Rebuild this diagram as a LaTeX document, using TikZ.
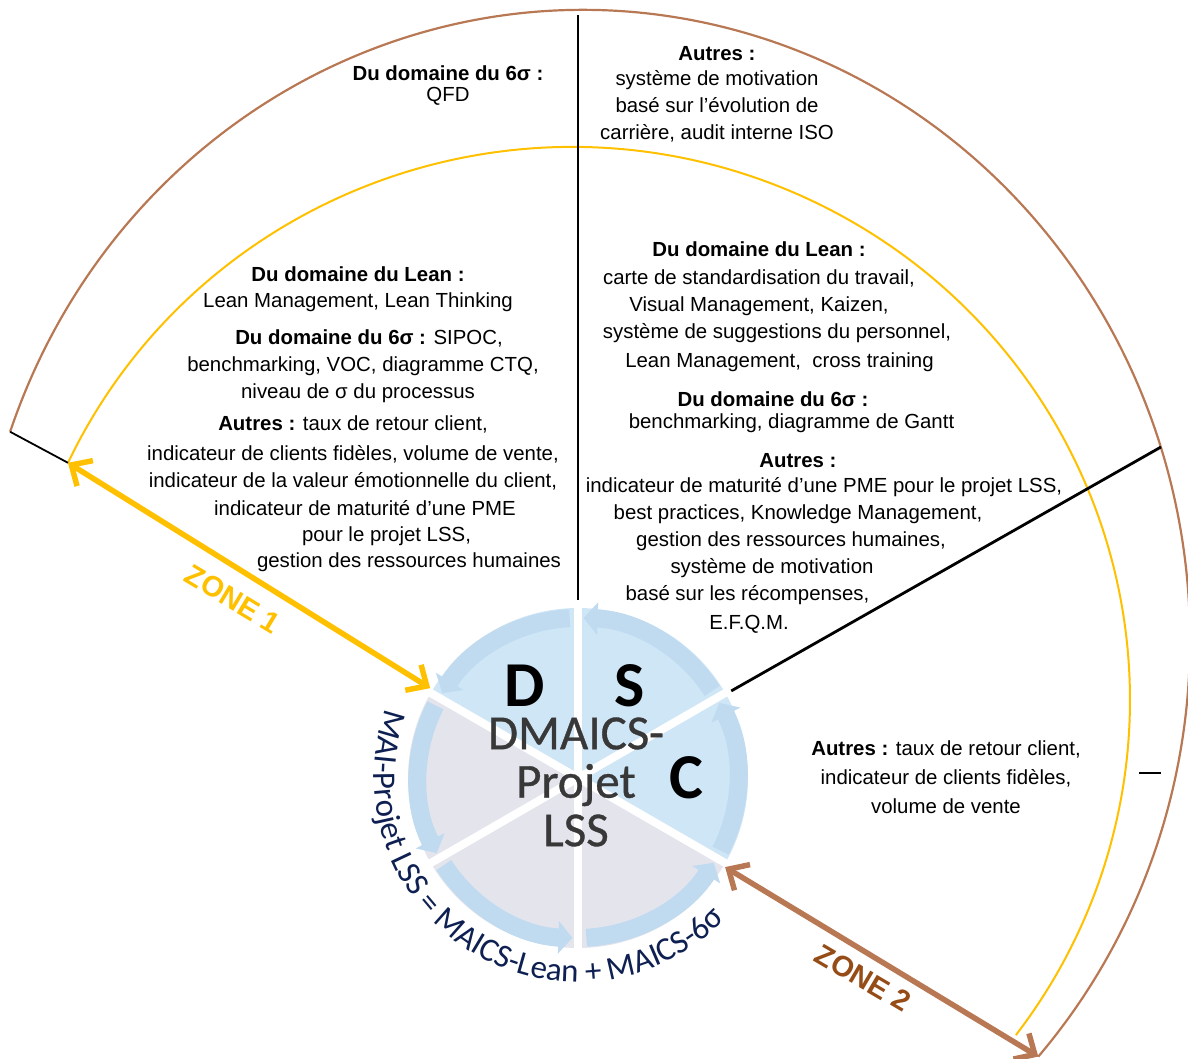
\documentclass[tikz,border=0pt]{standalone}
\usepackage{fontspec}
\setmainfont{Liberation Sans}
\newfontfamily\carlito{Carlito}
\newfontfamily\carlitocore[FakeBold=0.7]{Carlito}
\usetikzlibrary{arrows.meta, calc, decorations.text}

\definecolor{zoneyellow}{RGB}{255,192,0}
\definecolor{zonebrown}{RGB}{185,120,84}
\definecolor{zonebrowndark}{RGB}{150,76,22}
\definecolor{secblue}{RGB}{207,230,247}
\definecolor{secgrey}{RGB}{228,228,237}
\definecolor{ringblue}{RGB}{192,219,240}
\definecolor{cyclenavy}{RGB}{14,32,82}

\newcommand{\cyclefont}{\carlito\fontsize{33}{33}\selectfont}

\tikzset{
  blocktxt/.style={align=center, inner sep=0pt, font=\fontsize{20.4}{27}\selectfont},
  % zones: yellow = zone 1, brown = zone 2
  yellowarc/.style={draw=zoneyellow, line width=2pt},
  brownarc/.style={draw=zonebrown, line width=2.2pt},
  zonearr/.style={{Straight Barb[length=16pt, width=30pt]}-{Straight Barb[length=16pt, width=30pt]}, line width=5.5pt},
  zonelabel/.style={font=\bfseries\fontsize{29}{29}\selectfont, inner sep=0pt},
  divthin/.style={draw=black, line width=1.8pt},
  divthick/.style={draw=black, line width=2.8pt},
  % DMAICS wheel
  ringband/.style={draw=ringblue, line width=18pt, -{Triangle[width=32pt, length=14pt]}},
  sepline/.style={draw=white, line width=8pt},
  letterbig/.style={font=\carlito\bfseries\fontsize{64}{64}\selectfont, inner sep=0pt},
  coretxt/.style={font=\carlitocore\fontsize{49}{48.5}\selectfont, align=center, inner sep=0pt, text=black!78},
}

\begin{document}
\begin{tikzpicture}[x=1pt, y=1pt]
  \useasboundingbox (0,0) rectangle (1188,1059);

  \coordinate (O) at (578,281);
  \coordinate (Yc) at (572,359);
  \coordinate (Bc) at (583,419);
  \coordinate (ystart) at ($(Yc)+(154.6:558 and 553)$);
  \coordinate (brstart) at ($(Bc)+(160.7:607 and 630)$);
  \coordinate (brend) at ($(Bc)+(-41.4:607 and 630)$);
  \coordinate (toptip) at (578,1044);
  \coordinate (topmid) at (578,812);
  \coordinate (topfoot) at ($(O)+(90:178)$);
  \coordinate (rtip) at (1161,612);
  \coordinate (rfoot) at ($(O)+(29.6:176)$);
  \coordinate (z1foot) at ($(O)+(148.7:173)$);
  \coordinate (z2foot) at ($(O)+(-31.2:172)$);
  \coordinate (dashA) at (1139,286);
  \coordinate (dashB) at (1161,286);

  % zone limits
  \draw[yellowarc] (ystart) arc[start angle=154.6, end angle=-37.3, x radius=558, y radius=553];
  \draw[brownarc] (brstart) arc[start angle=160.7, end angle=-41.4, x radius=607, y radius=630];

  \draw[divthin] (brstart) -- (ystart);
  \draw[divthin] (toptip) -- (topmid);
  \draw[divthick] (topmid) -- (topfoot);
  \draw[divthick] (rtip) -- (rfoot);
  \draw[divthick] (dashA) -- (dashB);

  % wheel
  \foreach \s/\c in {30/secblue, 90/secblue, 150/secgrey, 210/secgrey, 270/secgrey, 330/secblue}
    \fill[\c] (O) -- ++(\s:170) arc[start angle=\s, delta angle=60, radius=170] -- cycle;
  \foreach \s in {30,90,...,330}
    \draw[ringband] ($(O)+({\s+3}:160)$) arc[start angle=\s+3, delta angle=55, radius=160];
  \foreach \s in {30,90,...,330}
    \draw[sepline] (O) -- ++(\s:176);

  \path[decorate, decoration={text along path, text align=left, text color=cyclenavy,
      text={|\cyclefont|MAI-Projet LSS = MAICS-Lean + MAICS-6σ}}]
    ($(O)+(160:204)$) arc[start angle=160, end angle=335, radius=204];

  \node[letterbig] (dD) at (525,373) {D};
  \node[letterbig] (dS) at (630,373) {S};
  \node[letterbig] (dC) at (686,281) {C};
  \node[coretxt] (core) at (576,277) {DMAICS-\\Projet\\LSS};

  \draw[zonearr, draw=zoneyellow] (ystart) -- (z1foot);
  \draw[zonearr, draw=zonebrown] (z2foot) -- (brend);
  \node[zonelabel, text=zoneyellow, rotate=-31] (zone1) at (233,460) {ZONE 1};
  \node[zonelabel, text=zonebrowndark, rotate=-30.5] (zone2) at (863,81) {ZONE 2};

  % texts
  \node[blocktxt] (sixtop) at (448,973.5) {\textbf{Du domaine du 6σ :}\\[-6pt]QFD};
  \node[blocktxt] (autrestop) at (717,964.5) {\textbf{Autres :}\\[-2pt]
    système de motivation\\
    basé sur l’évolution de\\
    carrière, audit interne ISO};

  \node[blocktxt] (leanleft) at (358,770) {\textbf{Du domaine du Lean :}\\[-1pt]
    Lean Management, Lean Thinking};
  \node[blocktxt] (sixleft) at (363,693) {\hspace*{12pt}\textbf{Du domaine du 6σ :} SIPOC,\\
    benchmarking, VOC, diagramme CTQ,\\
    niveau de σ du processus\hspace*{10pt}\null};
  \node[blocktxt] (autresleft) at (353,565.5) {\textbf{Autres :} taux de retour client,\\[3pt]
    indicateur de clients fidèles, volume de vente,\\
    indicateur de la valeur émotionnelle du client,\\[1pt]
    \hspace*{24pt}indicateur de maturité d’une PME\\[-1pt]
    \hspace*{67pt}pour le projet LSS,\\[-1pt]
    \hspace*{112pt}gestion des ressources humaines};

  \node[blocktxt] (leanright) at (759,752.5) {\textbf{Du domaine du Lean :}\\[1pt]
    carte de standardisation du travail,\\
    Visual Management, Kaizen,\\
    \hspace*{36pt}système de suggestions du personnel,\\[2pt]
    \hspace*{41pt}Lean Management,~ cross training};
  \node[blocktxt] (sixright) at (773,647) {\textbf{Du domaine du 6σ :}\\[-5pt]
    \hspace*{37pt}benchmarking, diagramme de Gantt};
  \node[blocktxt] (autresright) at (798,516) {\textbf{Autres :}\\[-2pt]
    \hspace*{52pt}indicateur de maturité d’une PME pour le projet LSS,\\
    best practices, Knowledge Management,\\
    gestion des ressources humaines,\hspace*{14pt}\null\\
    système de motivation\hspace*{52pt}\null\\
    basé sur les récompenses,\hspace*{101pt}\null\\[2pt]
    E.F.Q.M.\hspace*{98pt}\null};

  \node[blocktxt] (autreslow) at (946,282) {\textbf{Autres :} taux de retour client,\\[2pt]
    indicateur de clients fidèles,\\[2pt]
    volume de vente};
\end{tikzpicture}
\end{document}
